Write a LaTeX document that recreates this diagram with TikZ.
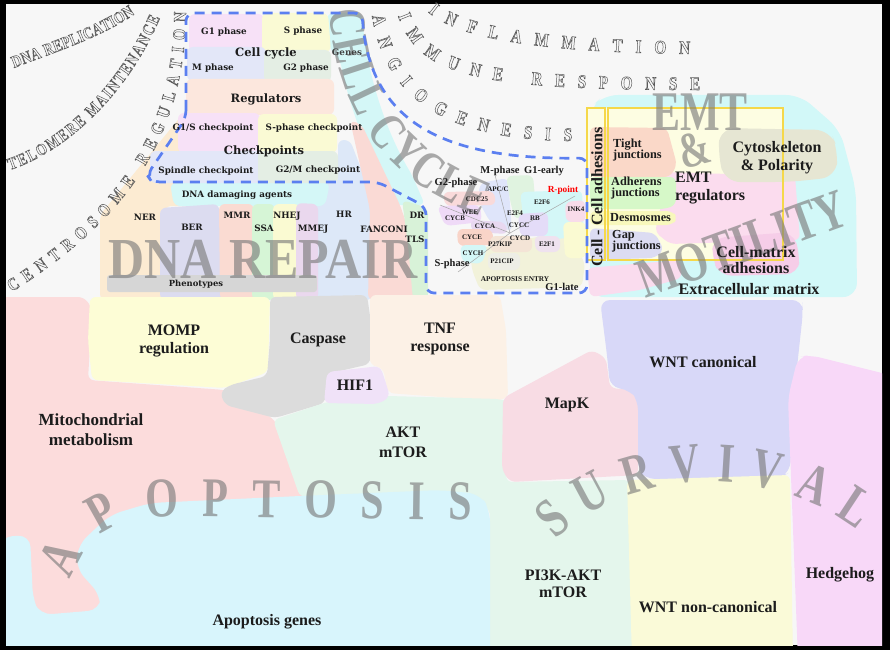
\documentclass[tikz,border=0pt]{standalone}
\usepackage{fontspec}
\usepackage{graphicx}
\setmainfont{Liberation Serif}
\newfontfamily\dvs{DejaVu Serif}
\newfontfamily\wmf[FakeStretch=0.75]{Liberation Serif}
\newfontfamily\olf[FakeStretch=0.8]{Liberation Serif}
\usetikzlibrary{decorations.text}
\definecolor{bgc}{HTML}{F7F7F7}
\definecolor{txt}{HTML}{1C1C1C}
\definecolor{olc}{HTML}{5A5A5A}
\definecolor{wmc}{HTML}{787878}
\definecolor{dashc}{HTML}{5B7FF0}
\definecolor{ybox}{HTML}{F5D84A}
% top-left
\definecolor{cG1}{HTML}{F7E1F7}
\definecolor{cS}{HTML}{FAFAD4}
\definecolor{cM}{HTML}{E3E7F8}
\definecolor{cG2}{HTML}{E4EEE4}
\definecolor{cReg}{HTML}{FCE7DD}
\definecolor{cCyan}{HTML}{D4F7F7}
\definecolor{cNER}{HTML}{FCEBD2}
\definecolor{cBER}{HTML}{DCDCF0}
\definecolor{cMMR}{HTML}{FADBD2}
\definecolor{cSSA}{HTML}{D6F5D6}
\definecolor{cNHEJ}{HTML}{FAFAD2}
\definecolor{cMMEJ}{HTML}{EAD8EE}
\definecolor{cHR}{HTML}{DDE8F8}
\definecolor{cFAN}{HTML}{FADAD5}
\definecolor{cDR}{HTML}{D8F2D8}
\definecolor{cPhen}{HTML}{D6D6D6}
% centre
\definecolor{cBeige}{HTML}{F2F2DA}
\definecolor{cAPC}{HTML}{DFE5FA}
\definecolor{cGE}{HTML}{E0F3E0}
\definecolor{cCDC}{HTML}{F9DADA}
\definecolor{cWEE}{HTML}{EFDAF7}
\definecolor{cCYCA}{HTML}{E8D8F0}
\definecolor{cCYCE}{HTML}{F9D4C8}
\definecolor{cRB}{HTML}{E4DCF8}
\definecolor{cINK}{HTML}{F8DCEA}
\definecolor{cP27}{HTML}{F4E4D6}
\definecolor{cE2F1}{HTML}{EFE2EF}
\definecolor{cP21}{HTML}{EEEEE6}
% EMT
\definecolor{cEMTc}{HTML}{D2F8F8}
\definecolor{cYfill}{HTML}{FDFDE2}
\definecolor{cTight}{HTML}{FAD8C8}
\definecolor{cAdh}{HTML}{D6F8C8}
\definecolor{cDes}{HTML}{F8F8BC}
\definecolor{cGap}{HTML}{DCDCF2}
\definecolor{cEMTr}{HTML}{FBDCEE}
\definecolor{cCyto}{HTML}{E6E6D3}
\definecolor{cCM}{HTML}{F6CDE8}
\definecolor{cECM}{HTML}{FADCEE}
% bottom
\definecolor{cMito}{HTML}{FCDCDC}
\definecolor{cMOMP}{HTML}{FDFDD6}
\definecolor{cCasp}{HTML}{DCDCDC}
\definecolor{cHIF}{HTML}{F0E2F8}
\definecolor{cTNF}{HTML}{FCF1E6}
\definecolor{cAKT}{HTML}{E4F6EC}
\definecolor{cApo}{HTML}{D8F5FC}
\definecolor{cMapK}{HTML}{F8DCE4}
\definecolor{cWNT}{HTML}{D8D8F8}
\definecolor{cWNTn}{HTML}{FAFAD8}
\definecolor{cHh}{HTML}{F8D8F8}

\begin{document}
\begin{tikzpicture}[x=1pt,y=-1pt,
  reg/.style={fill=#1, rounded corners=6pt},
  tls/.style={font=\dvs\bfseries\fontsize{8.8}{10}\selectfont, text=txt, inner sep=0pt},
  tlh/.style={font=\dvs\bfseries\fontsize{11.5}{13}\selectfont, text=txt, inner sep=0pt},
  bl/.style={font=\bfseries\fontsize{16}{18}\selectfont, text=txt, align=center, inner sep=0pt},
  cs/.style={font=\bfseries\fontsize{7}{8}\selectfont, text=txt, inner sep=0pt},
  cp/.style={font=\bfseries\fontsize{10.5}{12}\selectfont, text=txt, inner sep=0pt},
  em/.style={font=\bfseries\fontsize{12.3}{11.5}\selectfont, text=txt, align=left, anchor=west, inner sep=0pt},
  wm/.style={font=\wmf\bfseries\fontsize{#1}{#1}\selectfont, text=wmc, text opacity=0.62, inner sep=0pt},
  dashline/.style={draw=dashc, line width=2.7pt, dash pattern=on 10pt off 7pt, rounded corners=8pt},
  yb/.style={draw=ybox, line width=1.2pt},
  cline/.style={draw=black!35, line width=0.5pt}
]
\useasboundingbox (0,0) rectangle (890,650);
\fill[black] (0,0) rectangle (890,650);
\fill[bgc] (6,4) rectangle (882,645);

\begin{scope}
\clip (6,4) rectangle (882,645);
% ---------------- top-left: DNA repair & cell-cycle box
\fill[reg=cNER] (100,300) -- (100,215) -- (186,110) -- (192,110) -- (192,206) -- (165,206) -- (165,300) -- cycle;
\fill[reg=cCyan] (327,13) -- (362,13) .. controls (366,70) and (385,130) .. (412,175) -- (425,205) -- (395,205) .. controls (370,160) and (350,110) .. (340,60) -- (330,50) -- cycle;
\fill[reg=cHR] (338,140) -- (350,140) -- (375,205) -- (372,300) -- (316,300) -- (316,206) -- (302,206) -- (302,183) -- (338,183) -- cycle;
\fill[reg=cFAN] (350,120) -- (362,125) -- (400,205) -- (412,240) -- (417,300) -- (368,300) -- (370,210) -- cycle;
\fill[reg=cDR] (402,200) -- (428,208) -- (428,300) -- (413,300) -- (408,245) -- cycle;
\fill[reg=cCyan] (170,183) -- (330,183) -- (325,206) -- (174,206) -- cycle;
\fill[reg=cBER] (160,208) -- (219,204) -- (222,300) -- (160,300) -- cycle;
\fill[reg=cMMR] (219,204) -- (254,204) -- (254,300) -- (220,300) -- cycle;
\fill[reg=cSSA] (252,204) -- (275,204) -- (275,300) -- (252,300) -- cycle;
\fill[reg=cNHEJ] (273,204) -- (300,204) -- (300,300) -- (273,300) -- cycle;
\fill[reg=cMMEJ] (296,203) -- (318,204) -- (318,300) -- (296,300) -- cycle;
\fill[cPhen, rounded corners=3pt] (107,275) rectangle (317,292);

\fill[reg=cG1] (189,14) -- (264,14) -- (266,52) -- (189,52) -- cycle;
\fill[reg=cS] (262,13) -- (328,13) -- (331,52) -- (262,52) -- cycle;
\fill[reg=cM] (187,47) -- (266,47) -- (266,81) -- (187,81) -- cycle;
\fill[reg=cG2] (264,50) -- (331,50) -- (331,82) -- (264,82) -- cycle;
\fill[reg=cReg] (186,79) -- (334,79) -- (334,115) -- (186,115) -- cycle;
\fill[reg=cG1] (178,113) -- (260,113) -- (260,153) -- (178,153) -- cycle;
\fill[reg=cS] (258,114) -- (337,114) -- (337,153) -- (258,153) -- cycle;
\fill[reg=cM] (150,151) -- (262,151) -- (262,183) -- (150,183) -- cycle;
\fill[reg=cG2] (258,151) -- (338,151) -- (338,183) -- (258,183) -- cycle;

% ---------------- centre: cell-cycle wheel
\fill[reg=cBeige] (470,250) -- (563,232) -- (585,262) -- (582,287) -- (480,290) -- (472,270) -- cycle;
\fill[reg=cAPC] (480,183) -- (508,178) -- (512,232) -- (490,222) -- (478,200) -- cycle;
\fill[reg=cGE] (506,176) -- (533,175) -- (536,210) -- (515,220) -- (510,200) -- cycle;
\fill[reg=cCyan] (520,192) -- (582,190) -- (584,236) -- (548,240) -- (525,232) -- cycle;
\fill[reg=cCDC] (443,192) -- (494,191) -- (496,205) -- (445,206) -- cycle;
\fill[reg=cWEE] (437,206) -- (480,205) -- (482,222) -- (445,226) -- cycle;
\fill[reg=cCYCA] (470,220) -- (505,222) -- (508,234) -- (472,232) -- cycle;
\fill[reg=cCYCE] (457,229) -- (492,229) -- (494,245) -- (458,246) -- cycle;
\fill[reg=cCyan] (460,245) -- (488,245) -- (482,264) -- (462,262) -- cycle;
\fill[reg=cRB] (518,214) -- (548,212) -- (548,236) -- (520,236) -- cycle;
\fill[reg=cINK] (565,202) -- (585,200) -- (586,222) -- (566,222) -- cycle;
\fill[reg=cNHEJ] (563,222) -- (586,222) -- (586,258) -- (565,258) -- cycle;
\fill[reg=cP27] (490,236) -- (532,236) -- (532,252) -- (490,252) -- cycle;
\fill[reg=cE2F1] (534,236) -- (560,236) -- (560,252) -- (536,252) -- cycle;
\fill[reg=cP21] (488,253) -- (520,253) -- (520,270) -- (488,270) -- cycle;

% ---------------- EMT & motility
\fill[cEMTc, rounded corners=14pt] (590,108) -- (604,95) -- (800,95) -- (840,130) -- (856,190) -- (857,297) -- (590,297) -- cycle;
\fill[cYfill] (587,108) rectangle (783,260);
\fill[reg=cEMTr] (662,172) -- (795,176) -- (800,240) -- (670,244) -- (655,232) -- (662,200) -- cycle;
\fill[reg=cTight] (590,127) -- (667,128) -- (677,165) -- (670,177) -- (590,177) -- cycle;
\fill[reg=cAdh] (590,177) -- (676,177) -- (676,205) -- (665,209) -- (590,209) -- cycle;
\fill[reg=cDes] (590,211) -- (672,211) -- (678,218) -- (672,225) -- (590,225) -- cycle;
\fill[reg=cGap] (590,228) -- (655,233) -- (664,250) -- (655,258) -- (590,260) -- cycle;
\fill[cCyto, rounded corners=15pt] (720,128) -- (830,130) -- (838,150) -- (836,177) -- (790,182) -- (725,182) -- (718,155) -- cycle;
\fill[cCM, rounded corners=12pt] (713,238) -- (793,232) -- (800,255) -- (798,274) -- (720,276) -- (712,258) -- cycle;
\fill[reg=cECM] (587,268) -- (680,260) -- (682,278) -- (640,290) -- (590,297) -- cycle;
\draw[yb] (587,108) rectangle (605,260);
\draw[yb] (608,108) rectangle (783,260);

% ---------------- bottom half
\fill[reg=cMito] (0,297) -- (84,297) -- (92,308) -- (88,380) -- (225,390) -- (275,420) -- (305,500) -- (130,515) -- (105,620) -- (30,620) -- (0,560) -- cycle;
\fill[reg=cMOMP] (90,297) -- (270,297) -- (268,372) -- (225,388) -- (92,380) -- (88,340) -- cycle;
\fill[reg=cCasp] (270,297) -- (367,295) -- (372,330) -- (370,364) -- (327,374) -- (325,403) -- (275,418) -- (225,405) -- (220,392) -- (230,385) -- (267,376) -- (270,340) -- cycle;
\fill[reg=cTNF] (370,295) -- (500,295) -- (506,330) -- (508,398) -- (493,401) -- (388,393) -- (383,368) -- (370,365) -- cycle;
\fill[reg=cAKT] (273,420) -- (327,402) -- (388,396) -- (500,399) -- (508,402) -- (506,482) -- (630,480) -- (632,660) -- (490,660) -- (490,510) -- (470,494) -- (300,497) -- cycle;
\fill[reg=cHIF] (327,372) -- (380,366) -- (385,380) -- (390,397) -- (378,404) -- (324,403) -- cycle;
\fill[cApo, rounded corners=12pt] (0,537) -- (30,535) -- (33,600) -- (40,615) -- (100,610) -- (101,596) -- (76,568) -- (78,545) -- (110,515) -- (150,503) -- (300,496) -- (440,490) -- (480,494) -- (490,510) -- (490,660) -- (0,660) -- cycle;
\fill[reg=cMapK] (503,398) -- (592,350) -- (606,358) -- (610,388) -- (632,390) -- (638,402) -- (638,475) -- (510,482) -- (502,470) -- cycle;
\fill[cWNT, rounded corners=10pt] (600,300) -- (802,300) -- (803,312) -- (794,395) -- (790,472) -- (780,478) -- (645,479) -- (638,470) -- (638,400) -- (630,390) -- (610,387) -- (607,355) -- cycle;
\fill[reg=cWNTn] (627,480) -- (790,475) -- (793,660) -- (632,660) -- cycle;
\fill[cHh, rounded corners=10pt] (798,357) -- (810,355) -- (890,375) -- (890,660) -- (798,660) -- (788,398) -- cycle;
\end{scope}

% ---------------- watermarks
\node[wm=58] (wDNA) at (263,259) {\scalebox{1.15}[1]{DNA REPAIR}};
\begin{scope}[opacity=0.62]
\path[decorate, decoration={text along path, text align={fit to path}, text color=wmc,
  text={|\wmf\bfseries\fontsize{52}{52}\selectfont|CELL CYCLE}}]
  (330,10) .. controls (336,112) and (385,180) .. (480,216);
\path[decorate, decoration={text along path, text align={fit to path}, text color=wmc,
  text={|\wmf\bfseries\fontsize{56}{56}\selectfont|APOPTOSIS}}]
  (70,580) .. controls (92,527) and (125,516) .. (175,516) -- (472,520);
\path[decorate, decoration={text along path, text align={fit to path}, text color=wmc,
  text={|\wmf\bfseries\fontsize{56}{56}\selectfont|SURVIVAL}}]
  (556,540) .. controls (628,468) and (765,460) .. (858,530);
\end{scope}
\node[wm=56] (wEMT) at (700,112) {EMT};
\node[wm=50, rotate=15] (wAmp) at (694,150) {\&};
\node[wm=56, rotate=20] (wMot) at (742,244) {MOTILITY};

% ---------------- outlined stencil labels
\begin{scope}
\special{pdf:code 1 Tr 0.5 w}
\path[decorate, decoration={text along path, text align={fit to path}, text color=olc,
  text={|\olf\bfseries\fontsize{17}{17}\selectfont|DNA REPLICATION}}]
  (14,68) .. controls (55,52) and (100,38) .. (135,14);
\path[decorate, decoration={text along path, text align={fit to path}, text color=olc,
  text={|\olf\bfseries\fontsize{17}{17}\selectfont|TELOMERE MAINTENANCE}}]
  (10,170) .. controls (70,150) and (130,90) .. (160,18);
\path[decorate, decoration={text along path, text align={fit to path}, text color=olc,
  text={|\olf\bfseries\fontsize{18}{18}\selectfont|CENTROSOME REGULATION}}]
  (12,292) .. controls (100,235) and (185,160) .. (186,12);
\path[decorate, decoration={text along path, text align={fit to path}, text color=olc,
  text={|\olf\bfseries\fontsize{19}{19}\selectfont|INFLAMMATION}}]
  (428,12) .. controls (455,35) and (520,52) .. (690,54);
\path[decorate, decoration={text along path, text align={fit to path}, text color=olc,
  text={|\olf\bfseries\fontsize{19}{19}\selectfont|IMMUNE RESPONSE}}]
  (398,16) .. controls (420,75) and (470,90) .. (700,90);
\path[decorate, decoration={text along path, text align={fit to path}, text color=olc,
  text={|\olf\bfseries\fontsize{19}{19}\selectfont|ANGIOGENESIS}}]
  (372,16) .. controls (385,95) and (440,140) .. (572,141);
\special{pdf:code 0 Tr}
\end{scope}

% ---------------- dashed outline
\draw[dashline] (186,118) -- (186,13) -- (362,13) .. controls (370,120) and (440,160) .. (587,158)
  -- (587,293) -- (426,293) -- (426,207) -- (378,182) -- (152,182) -- (147,175) -- cycle;

% ---------------- centre lines
\coordinate (cc) at (510,233);
\coordinate (e1) at (495,175);
\coordinate (e2) at (440,205);
\coordinate (e3) at (458,272);
\coordinate (e4) at (575,196);
\draw[cline] (cc) -- (e1);
\draw[cline] (cc) -- (e2);
\draw[cline] (cc) -- (e3);
\draw[cline] (cc) -- (e4);

% ---------------- top-left labels
\node[tls] (tG1) at (224,32) {G1 phase};
\node[tls] (tS) at (303,31) {S phase};
\node[tlh] (tCC) at (266,53) {Cell cycle};
\node[tls, text=black!75] (tGenes) at (347,52) {Genes};
\node[tls] (tM) at (213,68) {M phase};
\node[tls] (tG2) at (306,68) {G2 phase};
\node[tlh] (tReg) at (266,99) {Regulators};
\node[tls] (tG1S) at (213,128) {G1/S checkpoint};
\node[tls] (tScp) at (314,128) {S-phase checkpoint};
\node[tlh] (tCp) at (264,151) {Checkpoints};
\node[tls] (tSp) at (206,171) {Spindle checkpoint};
\node[tls] (tG2M) at (318,170) {G2/M checkpoint};

\node[tls] (dDam) at (237,195) {DNA damaging agents};
\node[tls] (dNER) at (145,217) {NER};
\node[tls] (dBER) at (192,227) {BER};
\node[tls] (dMMR) at (237,215) {MMR};
\node[tls] (dSSA) at (264,228) {SSA};
\node[tls] (dNHEJ) at (287,216) {NHEJ};
\node[tls] (dMMEJ) at (313,229) {MMEJ};
\node[tls] (dHR) at (344,214) {HR};
\node[tls] (dFAN) at (384,229) {FANCONI};
\node[tls] (dDR) at (417,215) {DR};
\node[tls] (dTLS) at (415,239) {TLS};
\node[tls, font=\dvs\bfseries\fontsize{8.4}{10}\selectfont] (dPhen) at (196,284) {Phenotypes};

% ---------------- centre labels
\node[cp] (cMp) at (500,171) {M-phase};
\node[cp] (cG1e) at (544,171) {G1-early};
\node[cp] (cG2p) at (456,183) {G2-phase};
\node[cp, text=red, font=\bfseries\fontsize{9.3}{10}\selectfont] (cRp) at (563,190) {R-point};
\node[cs] (cAPCt) at (498,189) {APC/C};
\node[cs] (cCDCt) at (477,199) {CDC25};
\node[cs] (cE2F6) at (542,202) {E2F6};
\node[cs] (cINKt) at (576,209) {INK4};
\node[cs] (cWEEt) at (470,212) {WEE};
\node[cs] (cCYCB) at (455,218) {CYCB};
\node[cs] (cE2F4) at (515,213) {E2F4};
\node[cs] (cRBt) at (535,218) {RB};
\node[cs] (cCYCAt) at (485,226) {CYCA};
\node[cs] (cCYCC) at (519,225) {CYCC};
\node[cs] (cCYCEt) at (472,237) {CYCE};
\node[cs] (cCYCD) at (520,238) {CYCD};
\node[cs] (cP27t) at (500,244) {P27KIP};
\node[cs] (cE2F1t) at (547,244) {E2F1};
\node[cs] (cCYCH) at (473,253) {CYCH};
\node[cp] (cSp) at (452,264) {S-phase};
\node[cs] (cP21t) at (502,261) {P21CIP};
\node[cs, font=\bfseries\fontsize{7.3}{8}\selectfont] (cApoE) at (515,279) {APOPTOSIS ENTRY};
\node[cp] (cG1l) at (562,287) {G1-late};

% ---------------- EMT labels
\node[bl, rotate=90] (eCC) at (597,197) {Cell - Cell adhesions};
\node[em] (eTight) at (613,150) {Tight\\junctions};
\node[em] (eAdh) at (611,188) {Adherens\\junctions};
\node[em] (eDes) at (610,218) {Desmosmes};
\node[em] (eGap) at (612,241) {Gap\\junctions};
\node[bl, align=left, anchor=west] (eReg) at (675,188) {EMT\\regulators};
\node[bl] (eCyto) at (777,158) {Cytoskeleton\\\& Polarity};
\node[bl, font=\bfseries\fontsize{16}{16}\selectfont] (eCM) at (756,260) {Cell-matrix\\adhesions};
\node[bl] (eECM) at (749,289) {Extracellular matrix};

% ---------------- bottom labels
\node[bl, font=\bfseries\fontsize{17}{20}\selectfont] (bMito) at (91,430) {Mitochondrial\\metabolism};
\node[bl] (bMOMP) at (174,341) {MOMP\\regulation};
\node[bl] (bCasp) at (318,340) {Caspase};
\node[bl] (bHIF) at (355,385) {HIF1};
\node[bl] (bTNF) at (440,339) {TNF\\response};
\node[bl, font=\bfseries\fontsize{16}{20}\selectfont] (bAKT) at (403,442) {AKT\\mTOR};
\node[bl] (bApo) at (267,622) {Apoptosis genes};
\node[bl] (bMapK) at (567,405) {MapK};
\node[bl] (bWNT) at (703,362) {WNT canonical};
\node[bl, font=\bfseries\fontsize{16}{17}\selectfont] (bPI3K) at (563,584) {PI3K-AKT\\mTOR};
\node[bl] (bWNTn) at (708,607) {WNT non-canonical};
\node[bl] (bHh) at (840,575) {Hedgehog};
\end{tikzpicture}
\end{document}
